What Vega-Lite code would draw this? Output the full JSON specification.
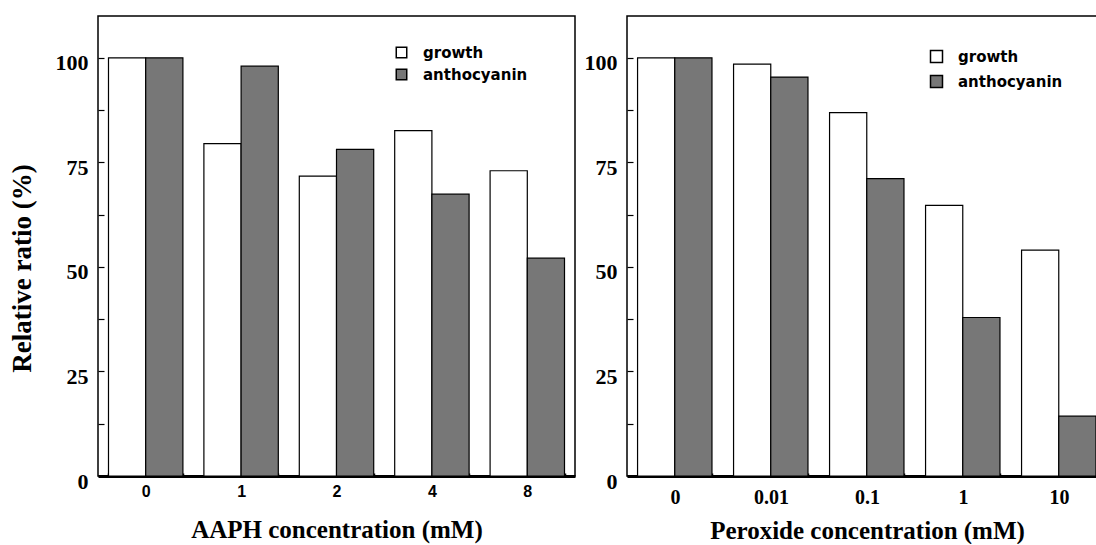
{
  "$schema": "https://vega.github.io/schema/vega-lite/v6.json",
  "background": "white",
  "padding": {"left": 7, "top": 15, "right": 0, "bottom": 0},
  "spacing": 7,
  "resolve": {"scale": {"color": "independent"}, "legend": {"color": "independent"}},
  "datasets": {
    "aaph": [
      {"conc": "0", "measure": "growth", "ratio": 100},
      {"conc": "0", "measure": "anthocyanin", "ratio": 100},
      {"conc": "1", "measure": "growth", "ratio": 79.5},
      {"conc": "1", "measure": "anthocyanin", "ratio": 98},
      {"conc": "2", "measure": "growth", "ratio": 71.7},
      {"conc": "2", "measure": "anthocyanin", "ratio": 78.1},
      {"conc": "4", "measure": "growth", "ratio": 82.6},
      {"conc": "4", "measure": "anthocyanin", "ratio": 67.4},
      {"conc": "8", "measure": "growth", "ratio": 73},
      {"conc": "8", "measure": "anthocyanin", "ratio": 52.1}
    ],
    "peroxide": [
      {"conc": "0", "measure": "growth", "ratio": 100},
      {"conc": "0", "measure": "anthocyanin", "ratio": 100},
      {"conc": "0.01", "measure": "growth", "ratio": 98.5},
      {"conc": "0.01", "measure": "anthocyanin", "ratio": 95.4},
      {"conc": "0.1", "measure": "growth", "ratio": 86.9},
      {"conc": "0.1", "measure": "anthocyanin", "ratio": 71.1},
      {"conc": "1", "measure": "growth", "ratio": 64.7},
      {"conc": "1", "measure": "anthocyanin", "ratio": 37.9},
      {"conc": "10", "measure": "growth", "ratio": 54},
      {"conc": "10", "measure": "anthocyanin", "ratio": 14.3}
    ]
  },
  "config": {
    "view": {"stroke": "black", "strokeWidth": 1.5},
    "axis": {"grid": false, "labelColor": "black", "titleColor": "black", "tickColor": "black", "domainColor": "black"}
  },
  "hconcat": [
    {
      "width": 477,
      "height": 460,
      "data": {"name": "aaph"},
      "mark": {"type": "bar", "stroke": "black", "strokeWidth": 1.2},
      "encoding": {
        "x": {
          "field": "conc", "type": "nominal", "sort": ["0", "1", "2", "4", "8"],
          "scale": {"paddingInner": 0.22, "paddingOuter": 0.11},
          "axis": {
            "title": "AAPH concentration (mM)", "labelAngle": 0,
            "labelFont": "Liberation Sans", "labelFontSize": 16, "labelFontWeight": "bold",
            "labelPadding": 10, "tickBand": "extent", "tickSize": -3, "tickWidth": 1.5,
            "domainWidth": 3,
            "titleFont": "Liberation Serif", "titleFontSize": 25, "titleFontWeight": "bold", "titlePadding": 18
          }
        },
        "xOffset": {"field": "measure", "sort": ["growth", "anthocyanin"]},
        "y": {
          "field": "ratio", "type": "quantitative",
          "scale": {"domain": [0, 110], "nice": false},
          "axis": {
            "values": [0, 12.5, 25, 37.5, 50, 62.5, 75, 87.5, 100],
            "labelExpr": "datum.value % 25 === 0 ? datum.label : ''",
            "domain": false, "tickSize": -6, "tickWidth": 1.2,
            "labelFont": "Liberation Serif", "labelFontSize": 22, "labelFontWeight": "bold",
            "labelPadding": 16, "labelOffset": 5,
            "title": "Relative ratio (%)",
            "titleFont": "Liberation Serif", "titleFontSize": 27, "titleFontWeight": "bold",
            "titleBaseline": "middle", "titleX": -76, "titleY": 252
          }
        },
        "color": {
          "field": "measure", "type": "nominal",
          "scale": {"domain": ["growth", "anthocyanin"], "range": ["white", "#777777"]},
          "legend": {
            "orient": "none", "legendX": 296, "legendY": 29, "title": null,
            "symbolType": "square", "symbolSize": 110, "symbolStrokeColor": "black", "symbolStrokeWidth": 1.5,
            "labelFont": "DejaVu Sans", "labelFontSize": 15, "labelFontWeight": "bold", "labelColor": "black",
            "labelOffset": 14, "rowPadding": 5
          }
        }
      }
    },
    {
      "width": 480,
      "height": 460,
      "data": {"name": "peroxide"},
      "mark": {"type": "bar", "stroke": "black", "strokeWidth": 1.2},
      "encoding": {
        "x": {
          "field": "conc", "type": "nominal", "sort": ["0", "0.01", "0.1", "1", "10"],
          "scale": {"paddingInner": 0.22, "paddingOuter": 0.11},
          "axis": {
            "title": "Peroxide concentration (mM)", "labelAngle": 0,
            "labelFont": "Liberation Serif", "labelFontSize": 20, "labelFontWeight": "bold",
            "labelPadding": 14, "tickBand": "extent", "tickSize": -3, "tickWidth": 1.5,
            "domainWidth": 3,
            "titleFont": "Liberation Serif", "titleFontSize": 25, "titleFontWeight": "bold", "titlePadding": 11
          }
        },
        "xOffset": {"field": "measure", "sort": ["growth", "anthocyanin"]},
        "y": {
          "field": "ratio", "type": "quantitative",
          "scale": {"domain": [0, 110], "nice": false},
          "axis": {
            "values": [0, 12.5, 25, 37.5, 50, 62.5, 75, 87.5, 100],
            "labelExpr": "datum.value % 25 === 0 ? datum.label : ''",
            "domain": false, "tickSize": -6, "tickWidth": 1.2,
            "labelFont": "Liberation Serif", "labelFontSize": 22, "labelFontWeight": "bold",
            "labelPadding": 16, "labelOffset": 5,
            "title": null
          }
        },
        "color": {
          "field": "measure", "type": "nominal",
          "scale": {"domain": ["growth", "anthocyanin"], "range": ["white", "#777777"]},
          "legend": {
            "orient": "none", "legendX": 302, "legendY": 33, "title": null,
            "symbolType": "square", "symbolSize": 144, "symbolStrokeColor": "black", "symbolStrokeWidth": 1.5,
            "labelFont": "DejaVu Sans", "labelFontSize": 15, "labelFontWeight": "bold", "labelColor": "black",
            "labelOffset": 14, "rowPadding": 6
          }
        }
      }
    }
  ]
}
